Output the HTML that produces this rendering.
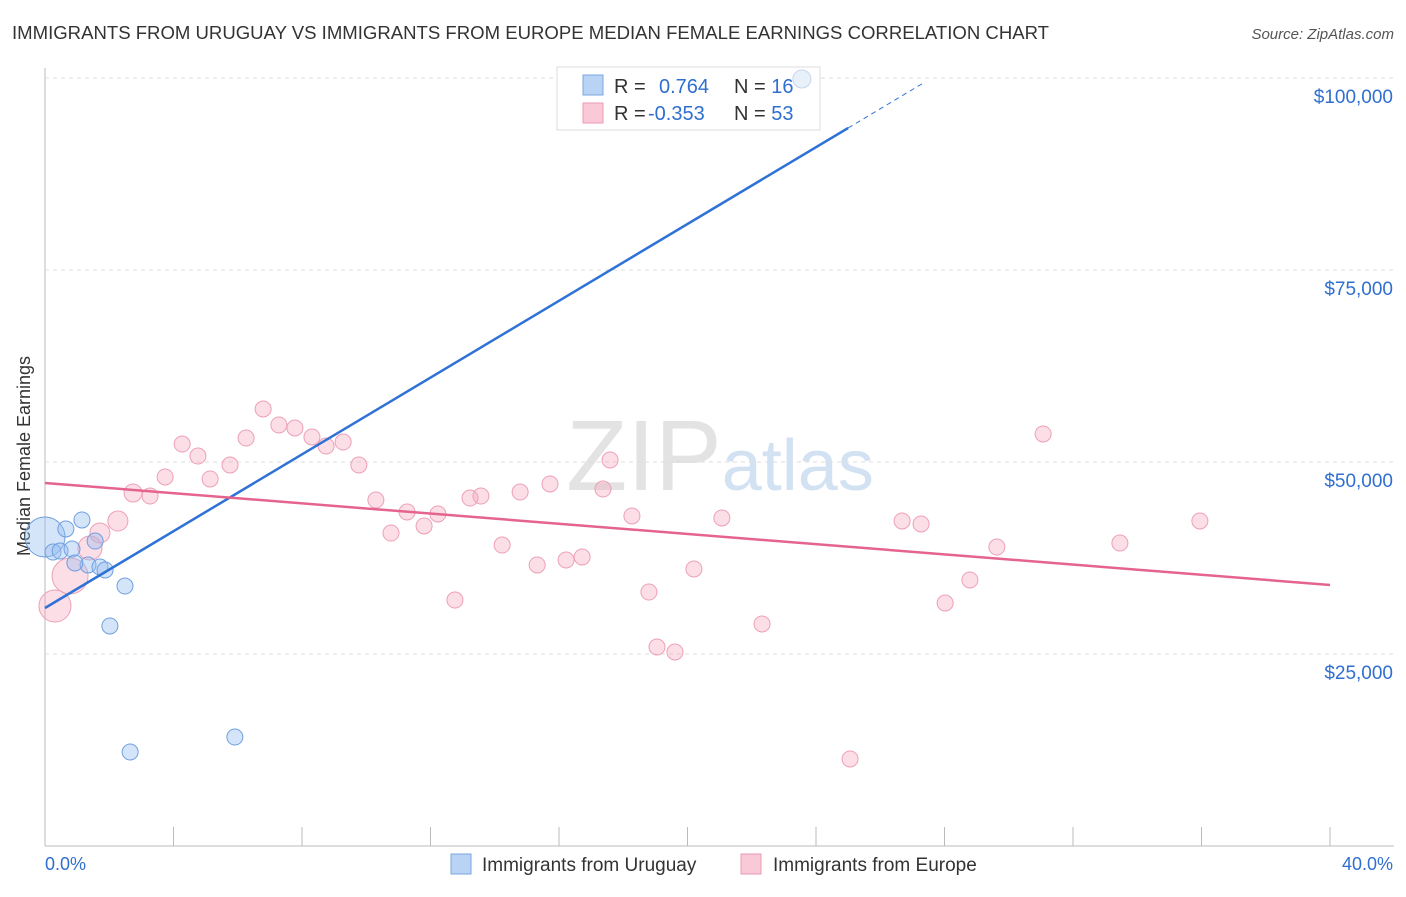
<!DOCTYPE html>
<html><head><meta charset="utf-8"><style>
body{margin:0;background:#fff;font-family:"Liberation Sans",sans-serif}
svg text{font-family:"Liberation Sans",sans-serif}
</style></head><body>
<svg id="chart" width="1406" height="892">
<text x="12" y="39" font-size="18" fill="#333" textLength="1037" lengthAdjust="spacingAndGlyphs">IMMIGRANTS FROM URUGUAY VS IMMIGRANTS FROM EUROPE MEDIAN FEMALE EARNINGS CORRELATION CHART</text>
<text x="1394" y="39" font-size="15" fill="#555" font-style="italic" text-anchor="end">Source: ZipAtlas.com</text>
<text x="30" y="456" font-size="18" fill="#333" text-anchor="middle" transform="rotate(-90 30 456)">Median Female Earnings</text>
<text x="720" y="490" font-size="100" fill="#e3e3e3" text-anchor="middle" font-family="Liberation Serif">ZIP<tspan fill="#d3e2f3" font-size="72" font-family="Liberation Sans">atlas</tspan></text>
<g id="grid"></g>
<g>
<rect x="557" y="67" width="263" height="63" fill="#fff" stroke="#ddd"/>
<rect x="583" y="75" width="20" height="20" fill="#b9d3f5" stroke="#7aa6e0"/>
<rect x="583" y="103" width="20" height="20" fill="#f9c9d7" stroke="#ec9ab3"/>
<text x="614" y="93" font-size="20" fill="#333">R = <tspan fill="#2f6fd0" x="659">0.764</tspan><tspan fill="#333" x="734">N = </tspan><tspan fill="#2f6fd0">16</tspan></text>
<text x="614" y="120" font-size="20" fill="#333">R = <tspan fill="#2f6fd0" x="648">-0.353</tspan><tspan fill="#333" x="734">N = </tspan><tspan fill="#2f6fd0">53</tspan></text>
</g>
<g id="marks"></g>
<g>
<rect x="451" y="854" width="20" height="20" fill="#b9d3f5" stroke="#7aa6e0"/>
<text x="482" y="871" font-size="19" fill="#333">Immigrants from Uruguay</text>
<rect x="741" y="854" width="20" height="20" fill="#f9c9d7" stroke="#ec9ab3"/>
<text x="773" y="871" font-size="19" fill="#333">Immigrants from Europe</text>
</g>
<text x="45" y="870" font-size="18" fill="#2f6fd0">0.0%</text>
<text x="1393" y="870" font-size="18" fill="#2f6fd0" text-anchor="end">40.0%</text>
</svg>
<script>
const yTicks=[25000,50000,75000,100000];
const yTickLabels=["$25,000","$50,000","$75,000","$100,000"];
const xTicks=[0,4,8,12,16,20,24,28,32,36,40];
const uruguayX=[23.56,0,0.25,0.47,0.65,1.15,0.84,1.34,1.56,1.71,1.87,2.49,2.02,2.65,5.91,0.93];
const uruguayY=[99870,40230,38280,38410,41280,42450,38670,36590,39710,36330,35940,33850,28650,12240,14190,36850];
const europeX=[0.31,0.78,1.40,1.71,2.27,2.74,3.27,3.74,4.27,4.76,5.14,5.76,6.26,6.79,7.28,7.78,8.31,8.75,9.28,9.77,10.30,10.77,11.27,11.80,12.23,12.76,13.23,13.57,14.23,14.79,15.32,15.72,16.22,16.72,17.37,17.59,18.27,18.80,19.05,19.61,20.20,21.07,22.32,25.06,26.68,27.27,28.02,28.79,29.63,31.07,33.46,35.95];
const europeY=[31250,35160,38800,40760,42320,45960,45570,48050,52340,50780,47790,49610,53120,56900,54820,54430,53260,52080,52600,49610,45050,40750,43490,41670,43230,32030,45310,45570,39190,46090,36590,47140,37240,37630,46480,50260,42970,33070,25910,25260,36070,42710,28910,11330,42320,41930,31640,34640,38930,53650,39450,42320];
const europeR=[16,18,12,10,10,9,8,8,8,8,8,8,8,8,8,8,8,8,8,8,8,8,8,8,8,8,8,8,8,8,8,8,8,8,8,8,8,8,8,8,8,8,8,8,8,8,8,8,8,8,8,8];
const uruguayTrend=[30990,2500];
const europeTrend=[47270,-332];
const X=p=>45+p/40*1285, Y=v=>846-v/100000*768;
const NS="http://www.w3.org/2000/svg";
const grid=document.getElementById('grid'), marks=document.getElementById('marks');
function mk(tag,attrs,parent){const e=document.createElementNS(NS,tag);for(const k in attrs)e.setAttribute(k,attrs[k]);parent.appendChild(e);return e;}
mk('line',{x1:45,y1:68,x2:45,y2:846,stroke:'#bbb'},grid);
mk('line',{x1:45,y1:846,x2:1394,y2:846,stroke:'#bbb'},grid);
yTicks.forEach((v,i)=>{
 const l=mk('line',{x1:45,y1:Y(v),x2:1394,y2:Y(v),stroke:'#ddd','stroke-dasharray':'4,4'},grid);
 
 
 const t=mk('text',{x:1393,y:Y(v)+25,'font-size':19,fill:'#2f6fd0','text-anchor':'end'},grid);
 t.textContent=yTickLabels[i];
 
 
});
xTicks.forEach(p=>{
 const l=mk('line',{x1:X(p),y1:827,x2:X(p),y2:846,stroke:'#bbb'},grid);
 
 
});
europeX.forEach((p,i)=>{
 const c=mk('circle',{cx:X(p),cy:Y(europeY[i]),r:europeR[i],fill:'rgba(245,160,187,0.35)',stroke:'#eda0b8','stroke-width':1},marks);
 
 
});
const ur=[9,20,8,8,8,8,8,8,8,8,8,8,8,8,8,8];
uruguayX.forEach((p,i)=>{
 const c=mk('circle',{cx:X(p),cy:Y(uruguayY[i]),r:ur[i],fill:i===0?'rgba(230,238,250,0.9)':'rgba(150,190,240,0.4)',stroke:i===0?'#c5d6ee':'#6f9fe0','stroke-width':1},marks);
 
 
});
let l=mk('line',{x1:X(0),y1:Y(uruguayTrend[0]),x2:X(25),y2:Y(uruguayTrend[0]+25*uruguayTrend[1]),stroke:'#2f72d6','stroke-width':2.5},marks);


l=mk('line',{x1:X(25),y1:Y(uruguayTrend[0]+25*uruguayTrend[1]),x2:X(27.4),y2:Y(uruguayTrend[0]+27.4*uruguayTrend[1]),stroke:'#2f72d6','stroke-width':1,'stroke-dasharray':'5,4'},marks);


l=mk('line',{x1:X(0),y1:Y(europeTrend[0]),x2:X(40),y2:Y(europeTrend[0]+40*europeTrend[1]),stroke:'#e5638f','stroke-width':2.5},marks);


</script>
</body></html>
